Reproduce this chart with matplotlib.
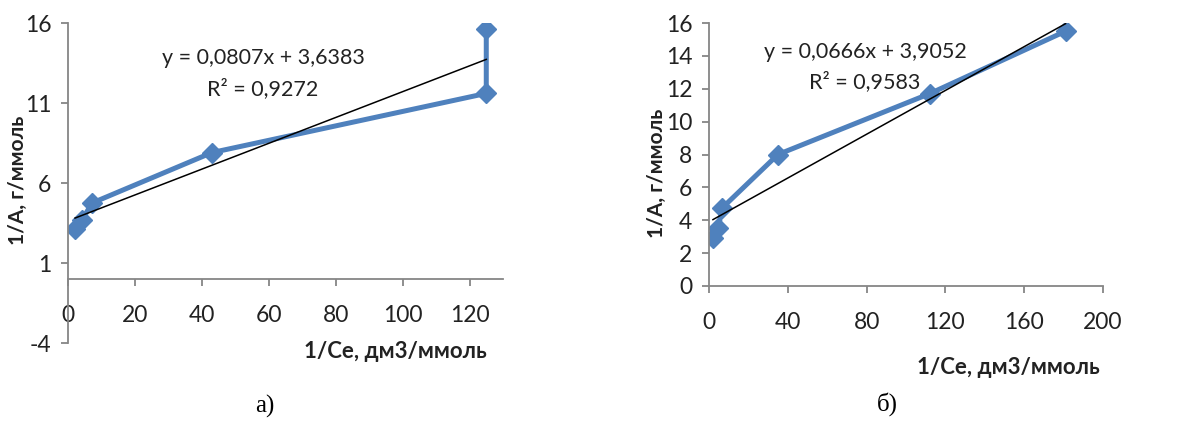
import matplotlib.pyplot as plt

# данные, левый график (а)
x_a = [2.1, 4.2, 7.2, 43, 125, 125]
y_a = [3.1, 3.7, 4.75, 7.9, 11.6, 15.6]
k_a, b_a = 0.0807, 3.6383
eq_a = "y = 0,0807x + 3,6383"
r2_a = "R² = 0,9272"

# данные, правый график (б)
x_b = [2, 4.7, 6.7, 35, 112, 181]
y_b = [2.9, 3.5, 4.75, 8.0, 11.7, 15.5]
k_b, b_b = 0.0666, 3.9052
eq_b = "y = 0,0666x + 3,9052"
r2_b = "R² = 0,9583"

W, H = 1200, 421
fig = plt.figure(figsize=(12, 4.21), dpi=100)
plt.rcParams['font.family'] = ['Lato', 'DejaVu Sans']
plt.rcParams['axes.unicode_minus'] = False

blue = "#4F81BD"
grey = "#868686"


def setup(ax):
    for s in ["top", "right"]:
        ax.spines[s].set_visible(False)
    for s in ["left", "bottom"]:
        ax.spines[s].set_color(grey)
        ax.spines[s].set_linewidth(1.3)
    ax.tick_params(axis="both", colors=grey, length=5, width=1.3, labelsize=16.5,
                   labelcolor="#222222")
    ax.tick_params(axis="x", direction="out", pad=14)
    ax.tick_params(axis="y", direction="out", pad=7)


# а)
ax1 = fig.add_axes([68 / W, 1 - 343 / H, (503 - 68) / W, (343 - 23) / H])
setup(ax1)
ax1.set_xlim(0, 130)
ax1.set_ylim(-4, 16)
ax1.set_xticks([0, 20, 40, 60, 80, 100, 120])
ax1.set_yticks([-4, 1, 6, 11, 16])
ax1.spines["bottom"].set_position(("data", 0))
ax1.plot(x_a, y_a, color=blue, lw=3.6, marker="D", ms=10, zorder=2)
tx = [min(x_a), max(x_a)]
ax1.plot(tx, [k_a * t + b_a for t in tx], color="black", lw=1.1, zorder=3)

# б)
ax2 = fig.add_axes([709 / W, 1 - 286 / H, (1103 - 709) / W, (286 - 23) / H])
setup(ax2)
ax2.set_xlim(0, 200)
ax2.set_ylim(0, 16)
ax2.set_xticks([0, 40, 80, 120, 160, 200])
ax2.set_yticks(range(0, 17, 2))
ax2.plot(x_b, y_b, color=blue, lw=3.6, marker="D", ms=10, zorder=2)
tx = [min(x_b), max(x_b)]
ax2.plot(tx, [k_b * t + b_b for t in tx], color="black", lw=1.1, zorder=3)

# тексты
def ftext(x, y, s, **kw):
    fig.text(x / W, 1 - y / H, s, **kw)

ftext(263, 58, eq_a, ha="center", va="center", fontsize=15.5, color="#222222")
ftext(263, 89, r2_a, ha="center", va="center", fontsize=15.5, color="#222222")
ftext(865, 52, eq_b, ha="center", va="center", fontsize=15.5, color="#222222")
ftext(865, 82, r2_b, ha="center", va="center", fontsize=15.5, color="#222222")

lab_kw = dict(fontsize=16, fontweight="bold", color="#222222")
ftext(487, 352, "1/Ce, дм3/ммоль", ha="right", va="center", **lab_kw)
ftext(1100, 368, "1/Ce, дм3/ммоль", ha="right", va="center", **lab_kw)
ftext(18, 180, "1/А, г/ммоль", ha="center", va="center", rotation=90,
      **dict(lab_kw, fontsize=15))
ftext(657, 173, "1/А, г/ммоль", ha="center", va="center", rotation=90,
      **dict(lab_kw, fontsize=15))

cap_kw = dict(fontsize=18, family="Liberation Serif", ha="center", va="center")
ftext(265, 406, "а)", **cap_kw)
ftext(887, 404, "б)", **cap_kw)

fig.savefig("out.png", dpi=100)
